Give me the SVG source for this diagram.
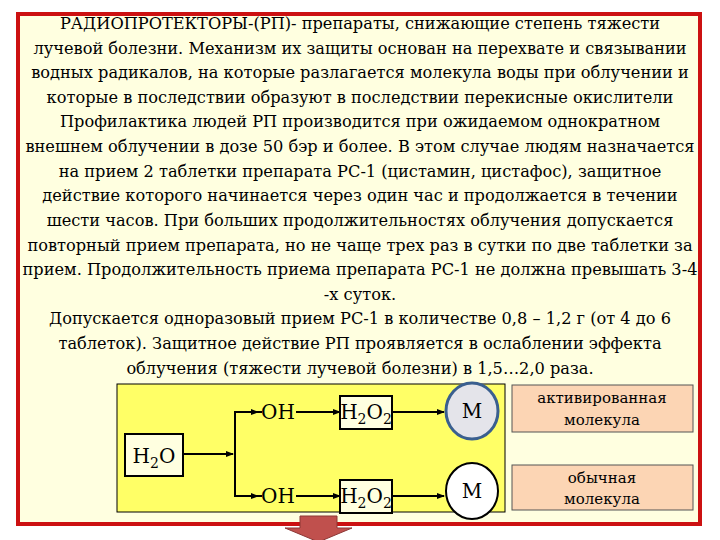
<svg xmlns="http://www.w3.org/2000/svg" width="720" height="540" viewBox="0 0 720 540">
<defs>
<marker id="ar" markerWidth="8" markerHeight="8" refX="7" refY="4" orient="auto" markerUnits="userSpaceOnUse"><path d="M0,1 L8,4 L0,7 Z" fill="#000"/></marker>
</defs>
<style>
text{font-family:"DejaVu Serif","Liberation Serif",serif;fill:#000;text-anchor:middle}
.t{font-size:16.2px}
.n{font-size:20px}
.s{font-size:15px}
.c{stroke:#000;stroke-width:2;fill:none}
</style>
<rect width="720" height="540" fill="#fff"/>
<rect x="18" y="14" width="682" height="510" fill="#ffffe0" stroke="#cc1111" stroke-width="4"/>
<g id="text">
<text class="t" x="360" y="29">РАДИОПРОТЕКТОРЫ-(РП)- препараты, снижающие степень тяжести</text>
<text class="t" x="360" y="54">лучевой болезни. Механизм их защиты основан на перехвате и связывании</text>
<text class="t" x="360" y="78">водных радикалов, на которые разлагается молекула воды при облучении и</text>
<text class="t" x="360" y="103">которые в последствии образуют в последствии перекисные окислители</text>
<text class="t" x="360" y="127">Профилактика людей РП производится при ожидаемом однократном</text>
<text class="t" x="360" y="152">внешнем облучении в дозе 50 бэр и более. В этом случае людям назначается</text>
<text class="t" x="360" y="177">на прием 2 таблетки препарата РС-1 (цистамин, цистафос), защитное</text>
<text class="t" x="360" y="201">действие которого начинается через один час и продолжается в течении</text>
<text class="t" x="360" y="226">шести часов. При больших продолжительностях облучения допускается</text>
<text class="t" x="360" y="251">повторный прием препарата, но не чаще трех раз в сутки по две таблетки за</text>
<text class="t" x="360" y="275">прием. Продолжительность приема препарата РС-1 не должна превышать 3-4</text>
<text class="t" x="360" y="300">-х суток.</text>
<text class="t" x="360" y="324">Допускается одноразовый прием РС-1 в количестве 0,8 – 1,2 г (от 4 до 6</text>
<text class="t" x="360" y="349">таблеток). Защитное действие РП проявляется в ослаблении эффекта</text>
<text class="t" x="360" y="374">облучения (тяжести лучевой болезни) в 1,5…2,0 раза.</text>
</g>
<rect x="117" y="384" width="388" height="128" fill="#ffff66" stroke="#000" stroke-width="1"/>
<g id="connectors">
<line class="c" x1="183" y1="454" x2="233" y2="454" marker-end="url(#ar)"/>
<polyline class="c" points="262,412 235,412 235,496 262,496"/>
<line class="c" x1="250" y1="412" x2="258" y2="412" marker-end="url(#ar)"/>
<line class="c" x1="250" y1="496" x2="258" y2="496" marker-end="url(#ar)"/>
<line class="c" x1="296" y1="412" x2="340" y2="412" marker-end="url(#ar)"/>
<line class="c" x1="296" y1="496" x2="340" y2="496" marker-end="url(#ar)"/>
<line class="c" x1="392" y1="412" x2="444" y2="412" marker-end="url(#ar)"/>
<line class="c" x1="392" y1="496" x2="444" y2="496" marker-end="url(#ar)"/>
</g>
<g id="h2o"><rect x="125" y="434" width="58" height="42" fill="#ffffe0" stroke="#000" stroke-width="2"/><text class="n" x="154" y="463">H<tspan font-size="14" dy="5">2</tspan><tspan dy="-5">O</tspan></text></g>
<g id="oh1"><text class="n" x="278" y="419">OH</text></g>
<g id="oh2"><text class="n" x="278" y="503">OH</text></g>
<g id="h2o2a"><rect x="340" y="396" width="52" height="33" fill="#ffffe0" stroke="#000" stroke-width="2"/><text class="n" x="366" y="419">H<tspan font-size="14" dy="5">2</tspan><tspan dy="-5">O</tspan><tspan font-size="14" dy="5">2</tspan></text></g>
<g id="h2o2b"><rect x="340" y="480" width="52" height="33" fill="#ffffe0" stroke="#000" stroke-width="2"/><text class="n" x="366" y="503">H<tspan font-size="14" dy="5">2</tspan><tspan dy="-5">O</tspan><tspan font-size="14" dy="5">2</tspan></text></g>
<g id="m1"><ellipse cx="472" cy="411" rx="26" ry="28" fill="#e4e4ea" stroke="#3a5f8f" stroke-width="3"/><text class="n" x="472" y="418">M</text></g>
<g id="m2"><ellipse cx="472" cy="491" rx="26" ry="28" fill="#fff" stroke="#000" stroke-width="2"/><text class="n" x="472" y="498">M</text></g>
<g id="lab1"><rect x="512" y="385" width="181" height="47" fill="#fcd5b4" stroke="#555" stroke-width="1"/><text class="s" x="602" y="403">активированная</text><text class="s" x="602" y="425">молекула</text></g>
<g id="lab2"><rect x="512" y="465" width="181" height="45" fill="#fcd5b4" stroke="#555" stroke-width="1"/><text class="s" x="602" y="483">обычная</text><text class="s" x="602" y="504">молекула</text></g>
<g id="down"><path d="M300,516 H337 V528 H352 L318.5,542 L285,528 H300 Z" fill="#c0504d" stroke="#8c3836" stroke-width="1"/></g>
</svg>
